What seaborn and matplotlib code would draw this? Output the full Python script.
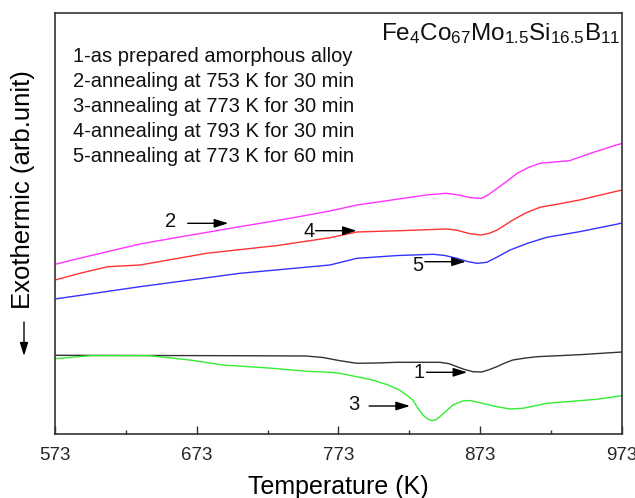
import numpy as np
import pandas as pd
import matplotlib
matplotlib.use("Agg")
import matplotlib.pyplot as plt
import seaborn as sns

# ---- data (y in arbitrary units) ----
T1 = [573, 700, 750, 762, 774, 786, 800, 814, 844.5, 851, 856.5, 862, 867.8, 874, 879, 884.7, 890, 896, 905, 913, 943, 973]
S1 = [78.7, 78.3, 78.0, 76.5, 73.3, 70.7, 71.0, 71.7, 71.7, 70.3, 67.3, 64.5, 62.3, 62.0, 64.2, 67.3, 70.8, 74.0, 76.0, 77.3, 79.3, 82.0]

T2 = [573, 600, 633, 665, 703.5, 740, 767, 786, 814, 835, 849, 858, 866, 874, 879, 885, 892, 899, 907, 915, 936, 952, 969, 973]
S2 = [169.7, 179.0, 190.0, 198.0, 207.3, 216.0, 223.0, 229.0, 234.7, 239.0, 240.7, 239.0, 236.3, 235.7, 239.5, 245.7, 253.0, 260.7, 266.5, 270.7, 273.3, 281.3, 289.0, 290.5]

T3 = [573, 598, 640, 668, 691.5, 726.7, 750.7, 767, 774, 797, 808, 816, 820, 825.5, 829, 832.5, 836, 839, 842, 844.5,
      849, 853.7, 860.7, 866, 872.7, 884, 894, 903, 920, 955, 973]
S3 = [75.3, 78.3, 78.3, 74.0, 69.0, 65.7, 62.7, 61.7, 60.7, 54.0, 49.0, 44.0, 40.0, 34.0, 25.7, 19.0, 15.0, 13.3, 14.5, 17.3,
      23.0, 29.0, 33.0, 33.5, 31.3, 27.5, 25.0, 25.7, 30.7, 34.7, 38.3]

T4 = [573, 590, 610, 633, 680, 730, 767, 786, 820, 849, 856, 865, 873, 879, 885, 896, 905, 915, 930, 943, 969, 973]
S4 = [154.0, 160.5, 167.3, 169.0, 180.7, 188.5, 196.3, 202.0, 203.5, 205.0, 204.0, 200.5, 199.0, 200.5, 204.0, 214.0, 221.0, 226.7, 230.5, 234.0, 242.7, 244.0]

T5 = [573, 633, 703.5, 767, 786, 815, 840, 848, 856.5, 864, 870.6, 877.7, 885, 894, 907, 920, 943, 969, 973]
S5 = [135.0, 147.3, 160.7, 169.0, 175.7, 178.5, 179.7, 178.5, 175.7, 172.5, 170.7, 171.7, 177.0, 184.0, 191.0, 196.7, 202.3, 209.7, 211.0]

series_names = ["1", "2", "3", "4", "5"]
series_colors = ["#333333", "#ff33ff", "#33ee33", "#ff3333", "#3333ff"]

legend_lines = [
    "1-as prepared amorphous alloy",
    "2-annealing at 753 K for 30 min",
    "3-annealing at 773 K for 30 min",
    "4-annealing at 793 K for 30 min",
    "5-annealing at 773 K for 60 min",
]
x_ticks = [573, 673, 773, 873, 973]
x_minor = [623, 723, 823, 923]

# ---- figure ----
sns.set_theme(style="white")
plt.rcParams['font.family'] = ['Liberation Sans', 'DejaVu Sans']
plt.rcParams['mathtext.fontset'] = 'custom'
plt.rcParams['mathtext.rm'] = 'Liberation Sans'
plt.rcParams['mathtext.it'] = 'Liberation Sans'
plt.rcParams['mathtext.default'] = 'regular'

W, H = 635, 498
fig = plt.figure(figsize=(W / 100, H / 100), dpi=100)
x0, x1, ytop, ybot = 55, 622, 12.5, 434
ax = fig.add_axes([x0 / W, (H - ybot) / H, (x1 - x0) / W, (ybot - ytop) / H])

frames = []
for name, T, S in zip(series_names, [T1, T2, T3, T4, T5], [S1, S2, S3, S4, S5]):
    frames.append(pd.DataFrame({"T": T, "S": S, "curve": name}))
df = pd.concat(frames, ignore_index=True)

sns.lineplot(data=df, x="T", y="S", hue="curve", palette=dict(zip(series_names, series_colors)),
             estimator=None, sort=False, linewidth=1.0, legend=False, ax=ax)

ax.set_xlim(573, 973)
ax.set_ylim(0, 421.5)
ax.set_xticks(x_ticks)
ax.set_xticks(x_minor, minor=True)
ax.set_xticklabels([str(t) for t in x_ticks])
ax.set_yticks([])
ax.tick_params(axis='x', which='major', direction='in', length=5.5, width=1.0, color='#333333',
               labelsize=13.5, pad=9, bottom=True, top=False)
ax.tick_params(axis='x', which='minor', direction='in', length=3, width=1.0, color='#333333',
               bottom=True, top=False)
for sp in ax.spines.values():
    sp.set_color('#333333')
    sp.set_linewidth(1.2)

ax.set_xlabel("Temperature (K)", fontsize=18, labelpad=8, color='black')
ax.set_ylabel("")

# legend-like text block
for i, line in enumerate(legend_lines):
    ax.text((72.7 - x0) / (x1 - x0), (ybot - (61.7 + 25 * i)) / (ybot - ytop), line,
            transform=ax.transAxes, fontsize=14.5, ha='left', va='baseline', color='#111111')

ax.text((620 - x0) / (x1 - x0), (ybot - 40) / (ybot - ytop),
        r"Fe$_{4}$Co$_{67}$Mo$_{1.5}$Si$_{16.5}$B$_{11}$",
        transform=ax.transAxes, fontsize=17.5, ha='right', va='baseline', color='#111111')

# curve labels with arrows
arrow_kw = dict(arrowstyle='-|>,head_length=0.7,head_width=0.22', color='black', lw=1.0,
                shrinkA=0, shrinkB=0)
labels = [("2", (654.6, 212.3), (666.6, 695.2, 210.7)),
          ("4", (752.3, 203.0), (756.8, 785.8, 203.3)),
          ("5", (829.2, 169.0), (833.9, 862.8, 172.3)),
          ("1", (829.9, 61.7), (835.1, 863.8, 61.7)),
          ("3", (783.9, 30.0), (794.6, 823.4, 28.0))]
for lab, (tx, ty), (xa, xb, ya) in labels:
    ax.text(tx, ty, lab, fontsize=14.5, ha='center', va='center', color='#111111')
    ax.annotate('', xy=(xb, ya), xytext=(xa, ya), arrowprops=arrow_kw)

# y label with downward arrow
fig.text(23 / W, 1 - 190 / H, "Exothermic (arb.unit)", rotation=90, ha='center', va='center',
         fontsize=18.5, color='black')
fig.add_artist(matplotlib.patches.FancyArrowPatch(
    (24 / W, 1 - 322 / H), (24 / W, 1 - 356 / H), transform=fig.transFigure,
    arrowstyle='-|>,head_length=0.8,head_width=0.25', color='black', lw=1.0,
    mutation_scale=10, shrinkA=0, shrinkB=0))

fig.savefig("out.png", dpi=100)
